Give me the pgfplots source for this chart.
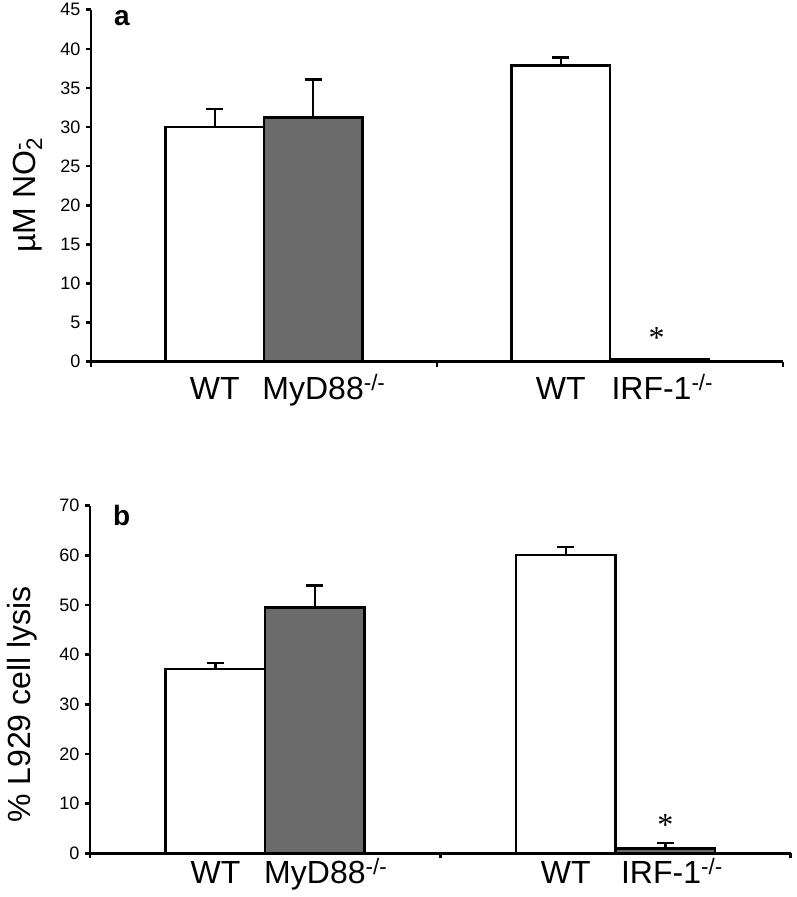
\documentclass[border=0pt]{standalone}
\usepackage{pgfplots}
\pgfplotsset{compat=1.18}
\usepackage{fontspec}
\setmainfont{Liberation Sans}
\newfontfamily\seriffont{Liberation Serif}
\definecolor{barfill}{RGB}{107,107,107}
\newcommand{\bigf}{\fontsize{32}{36}\selectfont}
\pgfplotsset{
  mystyle/.style={
    scale only axis,
    anchor=south west,
    xmin=0, xmax=2, ymin=0,
    axis x line*=bottom, axis y line*=left,
    axis line style={-, line width=2.5pt, black},
    xtick={0,1,2}, xticklabels={},
    tick align=outside,
    major tick length=5pt,
    tick style={line width=2.5pt, black},
    yticklabel style={font=\fontsize{18}{18}\selectfont, xshift=-2pt},
    /pgf/number format/assume math mode=true,
    clip=false,
  },
  barw/.style={ybar, bar width=0.284, bar shift=0pt, draw=black, line width=2.5pt,
    error bars/y dir=plus, error bars/y explicit,
    error bars/error bar style={line width=2.5pt, black},
    error bars/error mark options={rotate=90, mark size=8.5pt, line width=2.5pt, black}},
}
\begin{document}
\begin{tikzpicture}
\useasboundingbox (0pt,0pt) rectangle (796pt,-897pt);
% panel a
\begin{axis}[mystyle, at={(91pt,-361.7pt)}, width=692pt, height=352pt,
  ymax=45, ytick={0,5,...,45}]
\addplot[barw, fill=white] coordinates {(0.358,30.0) +- (0,2.3) (1.358,37.85) +- (0,1.05)};
\addplot[barw, fill=barfill] coordinates {(0.642,31.2) +- (0,4.9) (1.642,0.3) +- (0,0)};
\node[anchor=base, font=\bigf] at (axis cs:0.358,0) [yshift=-38pt] {WT};
\node[anchor=base, font=\bigf] at (axis cs:0.642,0) [yshift=-38pt] {MyD88\rlap{\textsuperscript{-/-}}};
\node[anchor=base, font=\bigf] at (axis cs:1.358,0) [yshift=-38pt] {WT};
\node[anchor=base, font=\bigf] at (axis cs:1.62,0) [yshift=-38pt] {IRF-1\rlap{\textsuperscript{-/-}}};
\node[font=\seriffont\fontsize{32}{32}\selectfont, inner sep=0pt] at (axis cs:1.635,3.0) {*};
\end{axis}
\node[rotate=90, anchor=base west, font=\bigf, inner sep=0pt] at (35pt,-253pt) {µM NO\rlap{\textsuperscript{-}}\textsubscript{2}};
\node[anchor=base west, font=\fontsize{28}{28}\selectfont\bfseries, inner sep=0pt] at (114pt,-25pt) {a};
% panel b
\begin{axis}[mystyle, at={(90pt,-853.3pt)}, width=700.7pt, height=347.6pt,
  ymax=70, ytick={0,10,...,70}]
\addplot[barw, fill=white] coordinates {(0.358,37.1) +- (0,1.2) (1.358,60.07) +- (0,1.6)};
\addplot[barw, fill=barfill] coordinates {(0.642,49.5) +- (0,4.4) (1.642,1.0) +- (0,1.1)};
\node[anchor=base, font=\bigf] at (axis cs:0.358,0) [yshift=-30pt] {WT};
\node[anchor=base, font=\bigf] at (axis cs:0.642,0) [yshift=-30pt] {MyD88\rlap{\textsuperscript{-/-}}};
\node[anchor=base, font=\bigf] at (axis cs:1.358,0) [yshift=-30pt] {WT};
\node[anchor=base, font=\bigf] at (axis cs:1.63,0) [yshift=-30pt] {IRF-1\rlap{\textsuperscript{-/-}}};
\node[font=\seriffont\fontsize{32}{32}\selectfont, inner sep=0pt] at (axis cs:1.642,5.6) {*};
\end{axis}
\node[rotate=90, anchor=base west, font=\bigf, inner sep=0pt] at (30pt,-823pt) {\% L929 cell lysis};
\node[anchor=base west, font=\fontsize{28}{28}\selectfont\bfseries, inner sep=0pt] at (113pt,-525pt) {b};
\end{tikzpicture}
\end{document}
